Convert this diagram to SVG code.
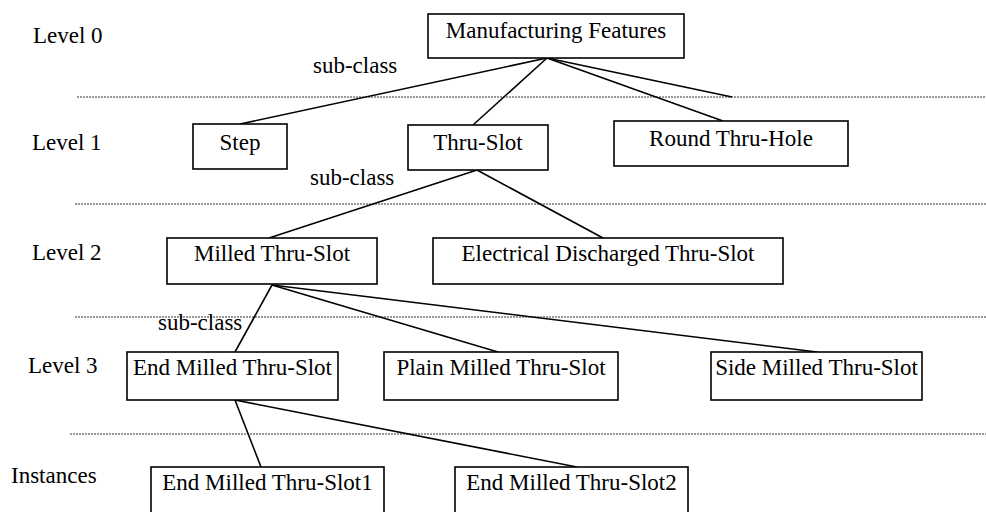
<svg xmlns="http://www.w3.org/2000/svg" width="986" height="512" viewBox="0 0 986 512">
<style>
text{font-family:"Liberation Serif","Times New Roman",serif;font-size:23px;fill:#000}
.box{fill:#fff;stroke:#000;stroke-width:1.6}
.dot{stroke:#333;stroke-width:1;stroke-dasharray:2,1;fill:none}
.ln{stroke:#000;stroke-width:1.6;fill:none}
.c{text-anchor:middle}
</style>
<rect width="986" height="512" fill="#fff"/>
<g id="levels">
<line class="dot" x1="77" y1="97" x2="986" y2="97"/>
<line class="dot" x1="75" y1="204" x2="986" y2="204"/>
<line class="dot" x1="75" y1="317" x2="986" y2="317"/>
<line class="dot" x1="70" y1="434" x2="986" y2="434"/>
<text x="33" y="43">Level 0</text>
<text x="32" y="150">Level 1</text>
<text x="32" y="260">Level 2</text>
<text x="28" y="373">Level 3</text>
<text x="11" y="483">Instances</text>
</g>
<g id="connectors">
<line class="ln" x1="547" y1="58" x2="240" y2="124"/>
<line class="ln" x1="547" y1="58" x2="473" y2="125"/>
<line class="ln" x1="547" y1="58" x2="723" y2="121"/>
<line class="ln" x1="547" y1="58" x2="732" y2="97"/>
<line class="ln" x1="477" y1="170" x2="269" y2="238"/>
<line class="ln" x1="477" y1="170" x2="603" y2="238"/>
<line class="ln" x1="272" y1="285" x2="235" y2="352"/>
<line class="ln" x1="272" y1="285" x2="498" y2="352"/>
<line class="ln" x1="272" y1="285" x2="817" y2="352"/>
<line class="ln" x1="235" y1="400" x2="261" y2="467"/>
<line class="ln" x1="235" y1="400" x2="577" y2="467"/>
<text x="313" y="73">sub-class</text>
<text x="310" y="185">sub-class</text>
<text x="158" y="330">sub-class</text>
</g>
<g id="n-mf"><rect class="box" x="428" y="14" width="256" height="44"/><text class="c" x="556" y="38">Manufacturing Features</text></g>
<g id="n-step"><rect class="box" x="193" y="124" width="94" height="45"/><text class="c" x="240" y="150">Step</text></g>
<g id="n-thruslot"><rect class="box" x="408" y="125" width="140" height="45"/><text class="c" x="478" y="150">Thru-Slot</text></g>
<g id="n-round"><rect class="box" x="614" y="121" width="234" height="45"/><text class="c" x="731" y="146">Round Thru-Hole</text></g>
<g id="n-milled"><rect class="box" x="167" y="238" width="210" height="46"/><text class="c" x="272" y="261">Milled Thru-Slot</text></g>
<g id="n-edm"><rect class="box" x="433" y="238" width="350" height="46"/><text class="c" x="608" y="261">Electrical Discharged Thru-Slot</text></g>
<g id="n-endmilled"><rect class="box" x="127" y="352" width="211" height="48"/><text class="c" x="232.5" y="375">End Milled Thru-Slot</text></g>
<g id="n-plain"><rect class="box" x="384" y="352" width="234" height="48"/><text class="c" x="501" y="375">Plain Milled Thru-Slot</text></g>
<g id="n-side"><rect class="box" x="711" y="352" width="211" height="48"/><text class="c" x="816.5" y="375">Side Milled Thru-Slot</text></g>
<g id="n-slot1"><rect class="box" x="151" y="467" width="233" height="60"/><text class="c" x="267.5" y="490">End Milled Thru-Slot1</text></g>
<g id="n-slot2"><rect class="box" x="455" y="467" width="233" height="60"/><text class="c" x="571.5" y="490">End Milled Thru-Slot2</text></g>
</svg>
